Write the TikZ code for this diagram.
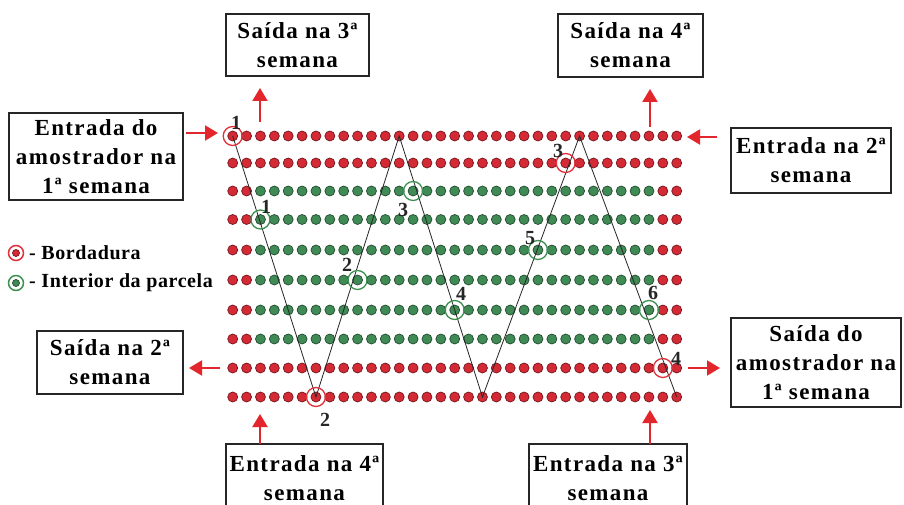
\documentclass[tikz,border=0pt]{standalone}
\usepackage{fontspec}
\setmainfont{Liberation Serif}
\newfontfamily\boxfont[LetterSpace=6]{Liberation Serif}
\newfontfamily\legfont[LetterSpace=3]{Liberation Serif}
\usetikzlibrary{arrows.meta}
\definecolor{dotred}{HTML}{D42A35}
\definecolor{dotgreen}{HTML}{3F8A55}
\definecolor{arrred}{HTML}{E3262B}
\definecolor{ringred}{HTML}{E0303A}
\definecolor{ringgreen}{HTML}{3E9050}
\begin{document}
\begin{tikzpicture}[x=1pt,y=-1pt,
  box/.style={draw=black!85, line width=1.3pt, align=center, inner sep=0pt,
    font=\boxfont\fontsize{23}{29}\selectfont\bfseries},
  dot/.style={circle, inner sep=0pt, minimum size=10pt, line width=0.7pt},
  rring/.style={circle, draw=ringred, line width=1.3pt, minimum size=19pt, inner sep=0pt},
  gring/.style={circle, draw=ringgreen, line width=1.3pt, minimum size=19pt, inner sep=0pt},
  zig/.style={draw=black!85, line width=0.8pt},
  arr/.style={draw=arrred, line width=2pt, -{Triangle[width=15pt,length=13pt]}},
  num/.style={font=\fontsize{20}{20}\selectfont\bfseries, inner sep=0pt, text=black!85},
  legend/.style={font=\legfont\fontsize{20}{22}\selectfont\bfseries, anchor=west, inner sep=0pt}]
\useasboundingbox (0,0) rectangle (904,505);
\fill[white] (0,0) rectangle (904,505);

% grid of plants
\foreach \r/\y in {0/136,1/163,2/191,3/219.5,4/250,5/280,6/310,7/339,8/368,9/397} {
  \foreach \c in {0,...,32} {
    \pgfmathsetmacro\xx{232.7+13.875*\c}
    \pgfmathtruncatemacro\isred{or(or(\r<2,\r>7),or(\c<2,\c>30))}
    \ifnum\isred=1 \def\dc{dotred}\else\def\dc{dotgreen}\fi
    \node[dot, fill=\dc, draw=\dc!55!black] (d-\c-\r) at (\xx,\y) {};
  }
}

% zigzag path
\draw[zig] (d-0-0.center) -- (d-6-9.center) -- (d-12-0.center) -- (d-18-9.center)
  -- (d-25-0.center) -- (d-32-9.center);

% sample rings
\node[rring] (r1) at (d-0-0) {};
\node[rring] (r2) at (d-6-9) {};
\node[rring] (r3) at (d-24-1) {};
\node[rring] (r4) at (d-31-8) {};
\node[gring] (g1) at (d-2-3) {};
\node[gring] (g2) at (d-9-5) {};
\node[gring] (g3) at (d-13-2) {};
\node[gring] (g4) at (d-16-6) {};
\node[gring] (g5) at (d-22-4) {};
\node[gring] (g6) at (d-30-6) {};

% numbers
\node[num] (nr1) at (236,123) {1};
\node[num] (ng1) at (266,207) {1};
\node[num] (ng2) at (347,265) {2};
\node[num] (ng3) at (403,210) {3};
\node[num] (ng4) at (461,294) {4};
\node[num] (ng5) at (530,238) {5};
\node[num] (ng6) at (653,293) {6};
\node[num] (nr3) at (558,151) {3};
\node[num] (nr4) at (676,359) {4};
\node[num] (nr2) at (325,420) {2};

% boxes
\node[box, minimum width=143pt, minimum height=62pt] (s3) at (297.5,45) {Saída na 3ª\\semana};
\node[box, minimum width=145pt, minimum height=63pt] (s4) at (630.5,45.5) {Saída na 4ª\\semana};
\node[box, minimum width=174pt, minimum height=87pt] (e1) at (96,156.5) {Entrada do\\amostrador na\\1ª semana};
\node[box, minimum width=160pt, minimum height=65pt] (e2) at (811,160.5) {Entrada na 2ª\\semana};
\node[box, minimum width=146pt, minimum height=63pt] (s2) at (110,362.5) {Saída na 2ª\\semana};
\node[box, minimum width=170pt, minimum height=89pt] (s1) at (816,362.5) {Saída do\\amostrador na\\1ª semana};
\node[box, minimum width=157pt, minimum height=68pt] (e4) at (304.5,478) {Entrada na 4ª\\semana};
\node[box, minimum width=158pt, minimum height=68pt] (e3) at (608,478) {Entrada na 3ª\\semana};

% arrows
\coordinate (as3a) at (260,122); \coordinate (as3b) at (260,88);
\coordinate (as4a) at (650,127); \coordinate (as4b) at (650,89);
\coordinate (ae1a) at (186,133); \coordinate (ae1b) at (218,133);
\coordinate (ae2a) at (717,137); \coordinate (ae2b) at (687,137);
\coordinate (as2a) at (220,368); \coordinate (as2b) at (189,368);
\coordinate (as1a) at (688,368); \coordinate (as1b) at (720,368);
\coordinate (ae4a) at (260,444); \coordinate (ae4b) at (260,414);
\coordinate (ae3a) at (650,444); \coordinate (ae3b) at (650,410);
\draw[arr] (as3a) -- (as3b);
\draw[arr] (as4a) -- (as4b);
\draw[arr] (ae1a) -- (ae1b);
\draw[arr] (ae2a) -- (ae2b);
\draw[arr] (as2a) -- (as2b);
\draw[arr] (as1a) -- (as1b);
\draw[arr] (ae4a) -- (ae4b);
\draw[arr] (ae3a) -- (ae3b);

% legend
\node[dot, fill=dotred, draw=dotred!55!black, minimum size=7pt] (lr) at (16,253) {};
\node[rring, minimum size=15pt, line width=1.5pt] (lrr) at (lr) {};
\node[dot, fill=dotgreen, draw=dotgreen!55!black, minimum size=7pt] (lg) at (16,283) {};
\node[gring, minimum size=15pt, line width=1.5pt] (lgr) at (lg) {};
\node[legend] (lt1) at (29,253) {- Bordadura};
\node[legend] (lt2) at (29,283) {- Interior da parcela};
\end{tikzpicture}
\end{document}
